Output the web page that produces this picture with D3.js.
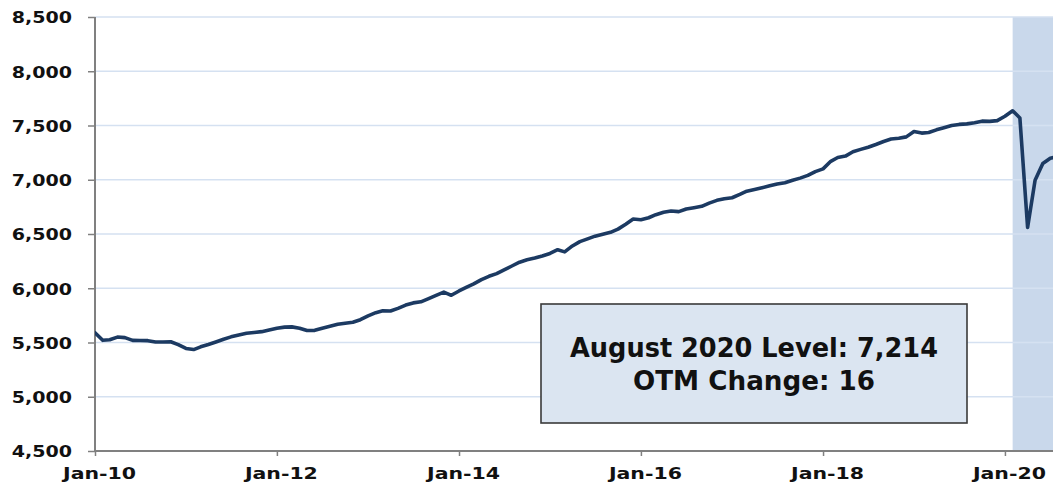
<!DOCTYPE html>
<html>
<head>
<meta charset="utf-8">
<script src="https://cdn.jsdelivr.net/npm/d3@7"></script>
<style>
  html, body { margin: 0; padding: 0; background: #fff; overflow: hidden; }
  svg { display: block; }
  text { font-family: "DejaVu Sans", Verdana, sans-serif; font-weight: bold; fill: #111; }
</style>
</head>
<body>
<svg id="chart" width="1053" height="483"></svg>
<script>
// ---- data ----
const startMonth = "2010-01";
const values = [
  5590, 5520, 5525, 5550, 5545, 5520, 5518, 5517, 5505, 5505, 5507, 5480,
  5445, 5435, 5460, 5482, 5505, 5530, 5552, 5570, 5585, 5592, 5600, 5615,
  5632, 5642, 5644, 5632, 5610, 5612, 5632, 5650, 5668, 5678, 5686, 5710,
  5745, 5775, 5792, 5790, 5815, 5845, 5865, 5875, 5905, 5935, 5965, 5935,
  5975, 6010, 6040, 6080, 6110, 6135, 6170, 6205, 6240, 6262, 6278, 6298,
  6321, 6355, 6335, 6390, 6430, 6455, 6480, 6498, 6515, 6545, 6590, 6638,
  6632, 6650, 6678, 6700, 6712, 6706, 6730, 6742, 6755, 6785, 6810, 6825,
  6834, 6865, 6895, 6910, 6926, 6944, 6960, 6972, 6995, 7015, 7040, 7075,
  7100, 7170, 7205, 7218, 7258, 7280, 7300, 7325, 7352, 7375, 7382, 7395,
  7445, 7430, 7435, 7460, 7480, 7500, 7510, 7515, 7525, 7540, 7538, 7545,
  7585, 7636, 7570, 6560, 6995, 7150, 7198, 7214
];
const yTicks = [4500, 5000, 5500, 6000, 6500, 7000, 7500, 8000, 8500];
const xTickDates = ["2010-01", "2012-01", "2014-01", "2016-01", "2018-01", "2020-01"];
const shadeStart = "2020-02";
const boxLines = ["August 2020 Level: 7,214", "OTM Change: 16"];

// ---- setup ----
const parse = d3.timeParse("%Y-%m");
const t0 = parse(startMonth);
const data = values.map((v, i) => ({ date: d3.timeMonth.offset(t0, i), value: v }));
const lastDate = data[data.length - 1].date;

const svg = d3.select("#chart");
const W = 1053, H = 483;
const mLeft = 95, mTop = 17, mBottom = 451;

const x = d3.scaleTime().domain([t0, lastDate]).range([mLeft, 1058]);
const y = d3.scaleLinear().domain([4500, 8500]).range([mBottom, mTop]);

const defs = svg.append("defs");
defs.append("clipPath").attr("id", "plotclip")
  .append("rect").attr("x", mLeft).attr("y", 0).attr("width", W - mLeft).attr("height", mBottom + 1);

// recession shading
svg.append("rect")
  .attr("x", x(parse(shadeStart)))
  .attr("y", mTop)
  .attr("width", W - x(parse(shadeStart)))
  .attr("height", mBottom - mTop)
  .attr("fill", "#c9d8eb");

// gridlines
svg.append("g")
  .selectAll("line")
  .data(yTicks.filter(d => d > 4500))
  .join("line")
  .attr("x1", mLeft).attr("x2", W)
  .attr("y1", d => y(d)).attr("y2", d => y(d))
  .attr("stroke", "#d5e1f1")
  .attr("stroke-width", 1.6);

// y axis
const yAxis = svg.append("g")
  .attr("transform", `translate(${mLeft},0)`)
  .call(d3.axisLeft(y).tickValues(yTicks).tickFormat(d3.format(",")).tickSize(7).tickPadding(0));
yAxis.select(".domain").attr("stroke", "#808080").attr("stroke-width", 2)
  .attr("d", `M0,${mTop}V${mBottom}`);
yAxis.selectAll(".tick line").attr("stroke", "#808080").attr("stroke-width", 1.5);
yAxis.selectAll(".tick text")
  .attr("x", -19.3)
  .attr("dy", "0.36em")
  .attr("font-size", 16)
  .attr("transform", "scale(1.19,1)")
  .style("font-family", '"DejaVu Sans", Verdana, sans-serif')
  .style("font-weight", "bold")
  .attr("fill", "#111");

// x axis
const xAxis = svg.append("g")
  .attr("transform", `translate(0,${mBottom})`)
  .call(d3.axisBottom(x).tickValues(xTickDates.map(parse)).tickFormat(d3.timeFormat("%b-%y")).tickSize(5).tickPadding(0));
xAxis.select(".domain").attr("stroke", "#808080").attr("stroke-width", 2)
  .attr("d", `M${mLeft - 1},0H${W}`);
xAxis.selectAll(".tick line").attr("stroke", "#808080").attr("stroke-width", 1.5);
xAxis.selectAll(".tick text")
  .attr("y", 0)
  .attr("dy", 0)
  .attr("font-size", 16)
  .style("font-family", '"DejaVu Sans", Verdana, sans-serif')
  .style("font-weight", "bold")
  .attr("fill", "#111")
  .attr("transform", "translate(4,28) scale(1.28,1)");

// line
const line = d3.line().x(d => x(d.date)).y(d => y(d.value));
svg.append("path")
  .datum(data)
  .attr("clip-path", "url(#plotclip)")
  .attr("fill", "none")
  .attr("stroke", "#1c3a62")
  .attr("stroke-width", 3.6)
  .attr("stroke-linejoin", "round")
  .attr("stroke-linecap", "round")
  .attr("d", line);

// annotation box
const box = svg.append("g");
box.append("rect")
  .attr("x", 541).attr("y", 304).attr("width", 426).attr("height", 119)
  .attr("fill", "#dbe5f1")
  .attr("stroke", "#3a3a3a")
  .attr("stroke-width", 1.6);
const widths = [368, 242];
const baselines = [357, 390];
box.selectAll("text")
  .data(boxLines)
  .join("text")
  .attr("x", 754)
  .attr("y", (d, i) => baselines[i])
  .attr("text-anchor", "middle")
  .attr("font-size", 26.5)
  .attr("textLength", (d, i) => widths[i])
  .attr("lengthAdjust", "spacingAndGlyphs")
  .text(d => d);
</script>
</body>
</html>
